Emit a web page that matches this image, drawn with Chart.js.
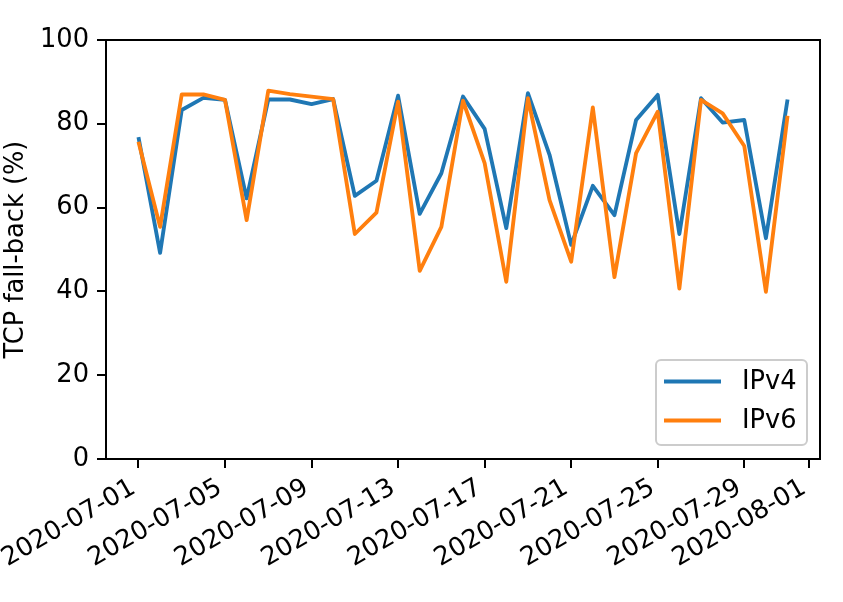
<!DOCTYPE html>
<html>
<head>
<meta charset="utf-8">
<script src="https://cdn.jsdelivr.net/npm/chart.js@4/dist/chart.umd.min.js"></script>
<style>
  html, body { margin: 0; padding: 0; background: #fff; }
  #wrap { width: 843px; height: 602px; }
</style>
</head>
<body>
<div id="wrap"><canvas id="fallbackChart" width="843" height="602"></canvas></div>
<script>
// data, one value per day
const dates = [
  '2020-07-01', '2020-07-02', '2020-07-03', '2020-07-04', '2020-07-05', '2020-07-06',
  '2020-07-07', '2020-07-08', '2020-07-09', '2020-07-10', '2020-07-11', '2020-07-12',
  '2020-07-13', '2020-07-14', '2020-07-15', '2020-07-16', '2020-07-17', '2020-07-18',
  '2020-07-19', '2020-07-20', '2020-07-21', '2020-07-22', '2020-07-23', '2020-07-24',
  '2020-07-25', '2020-07-26', '2020-07-27', '2020-07-28', '2020-07-29', '2020-07-30',
  '2020-07-31'
];
const ipv4 = [76.8, 49.2, 83.3, 86.2, 85.7, 62.2, 85.8, 85.8, 84.7, 85.9, 62.8, 66.4,
  86.7, 58.5, 68.2, 86.5, 78.8, 55.1, 87.3, 72.6, 51.1, 65.2, 58.2, 80.9,
  86.9, 53.7, 86.1, 80.3, 80.9, 52.7, 85.8];
const ipv6 = [75.7, 55.4, 87.0, 87.0, 85.7, 57.0, 87.9, 87.1, 86.5, 85.9, 53.7, 58.8,
  85.3, 44.9, 55.4, 85.5, 70.6, 42.3, 86.1, 61.8, 47.1, 83.9, 43.4, 73.0,
  82.9, 40.7, 85.7, 82.5, 74.7, 39.9, 81.9];
const tickLabels = ['2020-07-01', '2020-07-05', '2020-07-09', '2020-07-13', '2020-07-17',
  '2020-07-21', '2020-07-25', '2020-07-29', '2020-08-01'];
const yTicks = [0, 20, 40, 60, 80, 100];

// days since the first date, used as x position
const startMs = Date.parse(dates[0] + 'T00:00:00Z');
function dayNum(s) {
  return (Date.parse(s + 'T00:00:00Z') - startMs) / 86400000;
}
function dayLabel(v) {
  const d = new Date(startMs + v * 86400000);
  return d.toISOString().slice(0, 10);
}

const FONT = { family: 'DejaVu Sans', size: 25.7 };
const blue = '#1f77b4';
const orange = '#ff7f0e';

// top/right spines like matplotlib
const boxPlugin = {
  id: 'box',
  afterDraw(chart) {
    const { ctx, chartArea: a } = chart;
    ctx.save();
    ctx.strokeStyle = '#000';
    ctx.lineWidth = 2;
    ctx.beginPath();
    ctx.moveTo(a.left - 1, a.top);
    ctx.lineTo(a.right, a.top);
    ctx.lineTo(a.right, a.bottom + 1);
    ctx.stroke();
    ctx.restore();
  }
};

// legend box in the lower right of the plot area
const legendPlugin = {
  id: 'boxLegend',
  afterDraw(chart) {
    const { ctx, chartArea: a } = chart;
    const w = 151, h = 85, r = 5;
    const x = a.right - 13 - w, y = a.bottom - 14 - h;
    ctx.save();
    ctx.fillStyle = 'rgba(255,255,255,0.8)';
    ctx.strokeStyle = '#cccccc';
    ctx.lineWidth = 2;
    ctx.beginPath();
    ctx.roundRect(x, y, w, h, r);
    ctx.fill();
    ctx.stroke();
    ctx.font = FONT.size + 'px ' + FONT.family;
    ctx.textBaseline = 'middle';
    ctx.fillStyle = '#000';
    chart.data.datasets.forEach((ds, i) => {
      const ly = y + 21.5 + i * 39;
      ctx.strokeStyle = ds.borderColor;
      ctx.lineWidth = 3.85;
      ctx.beginPath();
      ctx.moveTo(x + 8, ly);
      ctx.lineTo(x + 65, ly);
      ctx.stroke();
      ctx.fillText(ds.label, x + 86, ly + 1);
    });
    ctx.restore();
  }
};

const ctx = document.getElementById('fallbackChart').getContext('2d');
const fallbackChart = new Chart(ctx, {
  type: 'line',
  data: {
    datasets: [
      {
        label: 'IPv4',
        data: dates.map((d, i) => ({ x: dayNum(d), y: ipv4[i] })),
        borderColor: blue,
        backgroundColor: blue,
        borderWidth: 3.85,
        pointRadius: 0,
        borderJoinStyle: 'round',
        borderCapStyle: 'butt',
        order: 1
      },
      {
        label: 'IPv6',
        data: dates.map((d, i) => ({ x: dayNum(d), y: ipv6[i] })),
        borderColor: orange,
        backgroundColor: orange,
        borderWidth: 3.85,
        pointRadius: 0,
        borderJoinStyle: 'round',
        borderCapStyle: 'butt',
        order: 0
      }
    ]
  },
  options: {
    responsive: false,
    animation: false,
    layout: { padding: { top: 40, right: 23, left: 0, bottom: 0 } },
    plugins: {
      legend: { display: false },
      tooltip: { enabled: false }
    },
    scales: {
      x: {
        type: 'linear',
        min: -1.5,
        max: 31.5,
        afterBuildTicks: (scale) => {
          scale.ticks = tickLabels.map(t => ({ value: dayNum(t) }));
        },
        afterFit: (scale) => {
          scale.height = 143;
          // keep the long rotated labels from pushing the plot area
          scale.paddingLeft = 0;
          scale.paddingRight = 0;
        },
        ticks: {
          minRotation: 30,
          maxRotation: 30,
          autoSkip: false,
          padding: 15,
          labelOffset: -5,
          color: '#000',
          font: { family: FONT.family, size: FONT.size, lineHeight: 0.27 },
          callback: (v) => dayLabel(v)
        },
        grid: {
          drawOnChartArea: false,
          drawTicks: true,
          tickLength: 9,
          lineWidth: 2,
          color: '#000'
        },
        border: { display: true, color: '#000', width: 2 }
      },
      y: {
        min: 0,
        max: 100,
        afterBuildTicks: (scale) => {
          scale.ticks = yTicks.map(v => ({ value: v }));
        },
        afterFit: (scale) => { scale.width = 106; },
        ticks: {
          padding: 8,
          color: '#000',
          font: FONT
        },
        grid: {
          drawOnChartArea: false,
          drawTicks: true,
          tickLength: 9,
          lineWidth: 2,
          color: '#000'
        },
        border: { display: true, color: '#000', width: 2 },
        title: {
          display: true,
          text: 'TCP fall-back (%)',
          color: '#000',
          font: FONT,
          padding: { top: 1, bottom: 0 }
        }
      }
    }
  },
  plugins: [boxPlugin, legendPlugin]
});
</script>
</body>
</html>
